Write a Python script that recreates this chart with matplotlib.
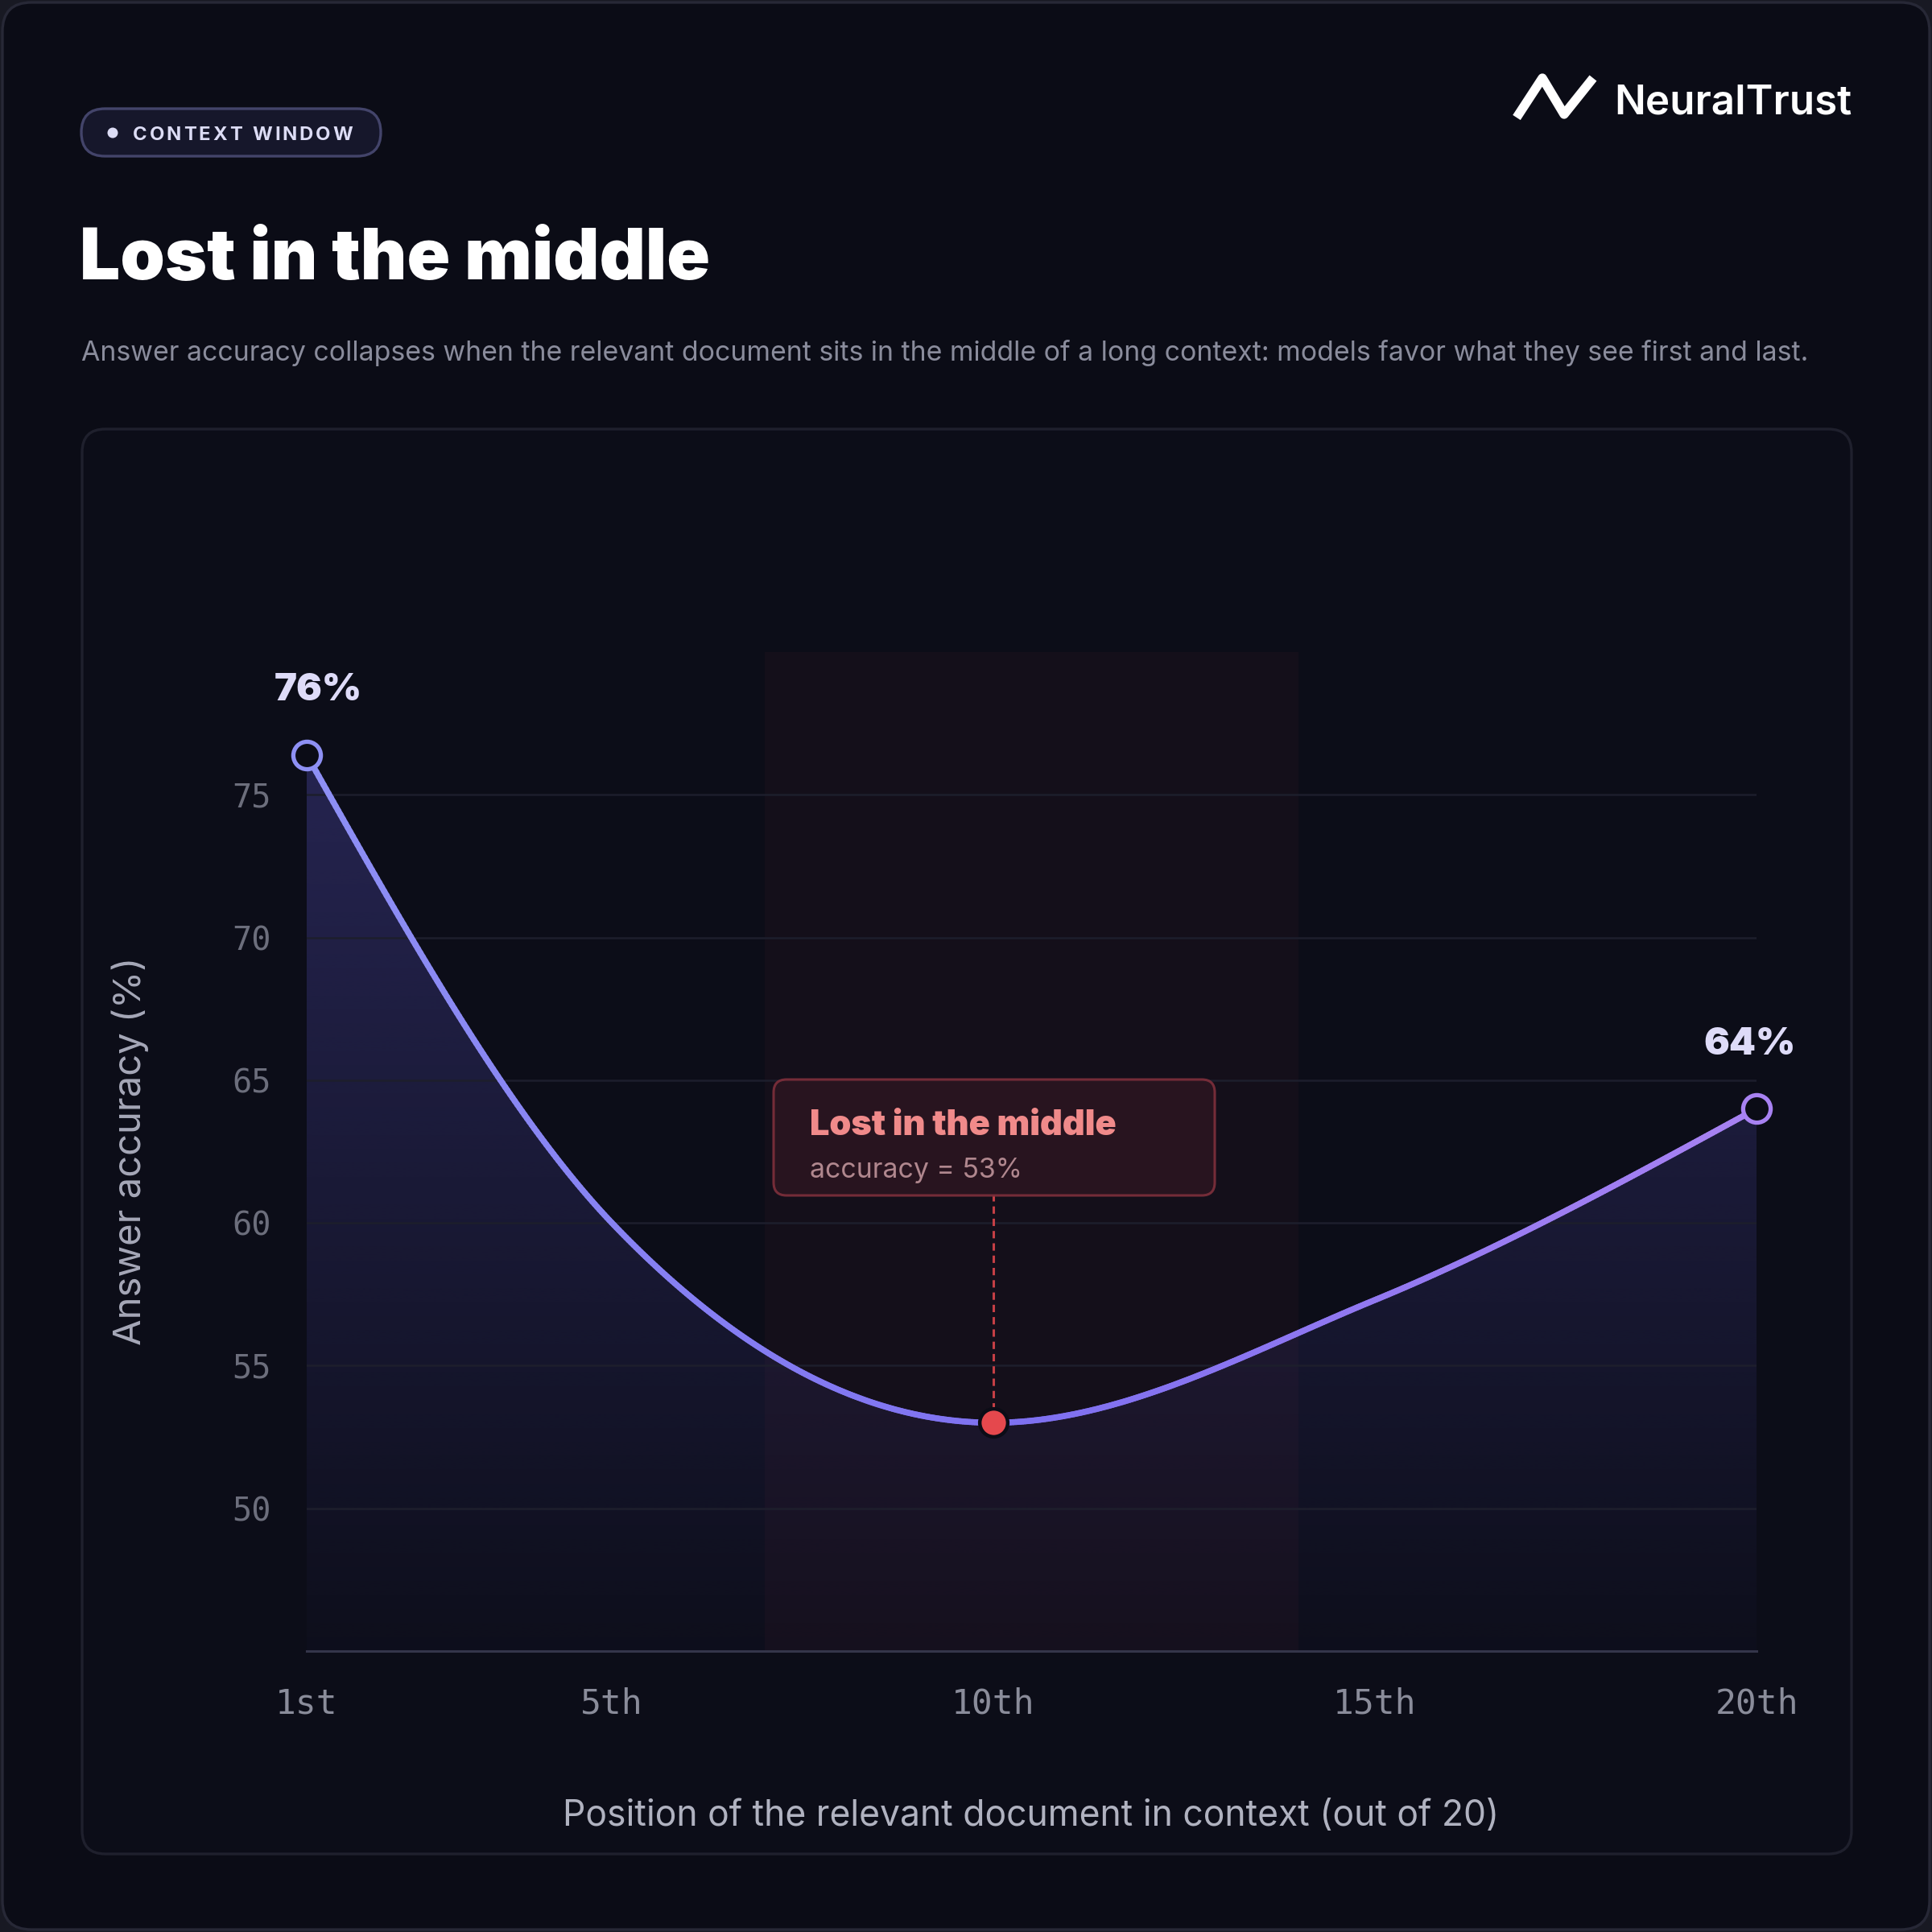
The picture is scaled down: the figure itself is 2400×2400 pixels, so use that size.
import numpy as np
import matplotlib
matplotlib.use("Agg")
import matplotlib.pyplot as plt
from matplotlib.patches import FancyBboxPatch, Circle
from matplotlib.collections import LineCollection
from matplotlib.colors import LinearSegmentedColormap, to_rgb

plt.rcParams['font.family'] = ['Inter', 'DejaVu Sans']

# --- data ---
positions = [1, 5, 10, 15, 20]
accuracy = [76.4, 60.0, 53.0, 57.3, 64.0]
tick_pos = [1, 5, 10, 15, 20]
tick_labels = ['1st', '5th', '10th', '15th', '20th']
y_ticks = [50, 55, 60, 65, 70, 75]
end_labels = ['76%', '64%']
band = (7, 14)          # "lost in the middle" zone
min_label = 'accuracy = 53%'

title = 'Lost in the middle'
subtitle = ('Answer accuracy collapses when the relevant document sits in the middle '
            'of a long context: models favor what they see first and last.')

BG = '#0b0c16'
W = H = 2400


def fx(x):
    return x / W


def fy(y):
    return 1 - y / H


def monotone_x(x, y, n=600):
    # same idea as d3.curveMonotoneX
    x = np.asarray(x, float)
    y = np.asarray(y, float)
    h = np.diff(x)
    s = np.diff(y) / h
    t = np.zeros_like(y)
    for i in range(1, len(x) - 1):
        p = (s[i - 1] * h[i] + s[i] * h[i - 1]) / (h[i - 1] + h[i])
        t[i] = (np.sign(s[i - 1]) + np.sign(s[i])) * min(abs(s[i - 1]), abs(s[i]), 0.5 * abs(p))
    t[0] = (3 * s[0] - t[1]) / 2
    t[-1] = (3 * s[-1] - t[-2]) / 2
    xs = np.linspace(x[0], x[-1], n)
    ys = np.empty_like(xs)
    for k, xv in enumerate(xs):
        i = min(np.searchsorted(x, xv, side='right') - 1, len(x) - 2)
        u = (xv - x[i]) / h[i]
        h00 = 2 * u**3 - 3 * u**2 + 1
        h10 = u**3 - 2 * u**2 + u
        h01 = -2 * u**3 + 3 * u**2
        h11 = u**3 - u**2
        ys[k] = h00 * y[i] + h10 * h[i] * t[i] + h01 * y[i + 1] + h11 * h[i] * t[i + 1]
    return xs, ys


fig = plt.figure(figsize=(12, 12), dpi=200, facecolor='#181923')

# card + chart panel (behind the axes)
fig.patches.append(FancyBboxPatch((fx(3), fy(2397)), fx(2394), fx(2394),
                                  boxstyle='round,pad=0,rounding_size=0.015',
                                  transform=fig.transFigure, fc=BG, ec='#272836', lw=1.2, zorder=-3))
fig.patches.append(FancyBboxPatch((fx(102), fy(2303)), fx(2198), fx(1770),
                                  boxstyle='round,pad=0,rounding_size=0.012',
                                  transform=fig.transFigure, fc='#0c0d18', ec='#1f202d', lw=1.2, zorder=-2))

# badge
fig.patches.append(FancyBboxPatch((fx(101), fy(194)), fx(372), fx(59),
                                  boxstyle='round,pad=0,rounding_size=%f' % fx(29.5),
                                  transform=fig.transFigure, fc='#16172b', ec='#43446a', lw=1.2, zorder=1))
fig.patches.append(Circle((fx(140), fy(165)), fx(6.5), transform=fig.transFigure,
                          fc='#dcdcf5', ec='none', zorder=2))
renderer = fig.canvas.get_renderer()
badge_text = 'CONTEXT WINDOW'
cx = fx(165)
track = 2.9 / W
for i, ch in enumerate(badge_text):
    if ch == ' ':
        cx += 7.0 / W + track
        continue
    t = fig.text(cx, fy(174), ch, fontsize=8.6, fontweight='bold', color='#dcdcf5',
                 ha='left', va='baseline')
    cx += t.get_window_extent(renderer).width / W + track

# logo
logo_x = [1884, 1916, 1943, 1979]
logo_y = [146, 97, 142, 97]
fig.lines.append(plt.Line2D([fx(v) for v in logo_x], [fy(v) for v in logo_y],
                            transform=fig.transFigure, color='white', lw=4.1,
                            solid_joinstyle='round', solid_capstyle='butt'))
fig.text(fx(2005), fy(142), 'NeuralTrust', fontsize=18.4, fontweight='semibold',
         color='white', ha='left', va='baseline')

# title + subtitle
fig.text(fx(99), fy(347), title, fontsize=32, fontweight='black', color='white',
         ha='left', va='baseline')
fig.text(fx(101), fy(448), subtitle, fontsize=12.2, color='#8a8c9c',
         ha='left', va='baseline')

# --- chart ---
ax = fig.add_axes([fx(381), fy(2051), fx(2182 - 381), fx(2051 - 810)])
ax.set_facecolor('none')
ax.set_zorder(1)

xs, ys = monotone_x(positions, accuracy)
ymin, ymax = 45, 80

# highlighted band
ax.axvspan(band[0], band[1], color='#e5484d', alpha=0.038, lw=0, zorder=0.5)

# gradient fill under the curve
fill = ax.fill_between(xs, ys, ymin, color='none', lw=0)
purple = np.array(to_rgb('#6a63e8'))
fill_grad = np.zeros((300, 2, 4))
fill_grad[..., :3] = purple
fill_grad[..., 3] = np.linspace(0.02, 0.30, 300)[:, None]
im = ax.imshow(fill_grad, extent=[positions[0], positions[-1], ymin, ymax], origin='lower',
               aspect='auto', zorder=1, interpolation='bilinear')
im.set_clip_path(fill.get_paths()[0], transform=ax.transData)

# gradient line
cmap = LinearSegmentedColormap.from_list('line', ['#8e90f4', '#7e70f0', '#a882f2'])
pts = np.column_stack([xs, ys]).reshape(-1, 1, 2)
segs = np.concatenate([pts[:-1], pts[1:]], axis=1)
lc = LineCollection(segs, cmap=cmap, lw=2.7, capstyle='round', joinstyle='round', zorder=3)
lc.set_array((xs[:-1] - xs[0]) / (xs[-1] - xs[0]))
lc.set_clim(0, 1)
ax.add_collection(lc)

# end markers and labels
end_cols = ['#8e90f4', '#a882f2']
end_dx = [5, -3]
for idx, lab, col, dx in zip([0, -1], end_labels, end_cols, end_dx):
    ax.plot(positions[idx], accuracy[idx], 'o', ms=12.3, mfc=BG, mec=col, mew=1.9,
            zorder=5, clip_on=False)
    ax.annotate(lab, (positions[idx], accuracy[idx]), xytext=(dx, 28.5),
                textcoords='offset points', ha='center', va='center',
                fontsize=17, fontweight='black', color='#dedbf8', annotation_clip=False)

# minimum point + callout
imin = int(np.argmin(accuracy))
box_bottom = 61.0
ax.plot([positions[imin]] * 2, [accuracy[imin], box_bottom], color='#e5484d', lw=1.1,
        ls=(0, (3, 2)), alpha=0.85, zorder=4)
ax.plot(positions[imin], accuracy[imin], 'o', ms=12.5, mfc='#e5484d', mec=BG, mew=1.6, zorder=6)

fig.patches.append(FancyBboxPatch((fx(961), fy(1485)), fx(548), fx(144),
                                  boxstyle='round,pad=0,rounding_size=%f' % fx(16),
                                  transform=fig.transFigure, fc='#2a1520', ec='#7a2e3a',
                                  lw=1.1, zorder=5, alpha=0.95))
fig.text(fx(1006), fy(1410), title, fontsize=15.6, fontweight='black', color='#f08a8a',
         ha='left', va='baseline', zorder=6)
fig.text(fx(1006), fy(1463), min_label, fontsize=12.2, color='#b0878e',
         ha='left', va='baseline', zorder=6)

# axes styling
ax.set_xlim(positions[0], positions[-1])
ax.set_ylim(ymin, ymax)
ax.set_yticks(y_ticks)
ax.set_yticklabels([str(v) for v in y_ticks], fontfamily='DejaVu Sans Mono',
                   fontsize=14.5, color='#6c6e7c')
ax.set_xticks(tick_pos)
ax.set_xticklabels(tick_labels, fontfamily='DejaVu Sans Mono', fontsize=15.5, color='#8a8c9a')
ax.tick_params(axis='both', length=0)
ax.tick_params(axis='y', pad=16)
ax.tick_params(axis='x', pad=16)
ax.grid(axis='y', color='#1d1e2c', lw=0.9, zorder=0.2)
ax.grid(axis='x', visible=False)
for s in ['top', 'left', 'right']:
    ax.spines[s].set_visible(False)
ax.spines['bottom'].set_color('#34354a')
ax.spines['bottom'].set_linewidth(1.1)

fig.text(fx(162), fy(1430), 'Answer accuracy (%)', rotation=90, fontsize=17,
         color='#a6a8b8', ha='center', va='center')
fig.text(fx(1281), fy(2256), 'Position of the relevant document in context (out of 20)',
         fontsize=16, color='#b0b2c0', ha='center', va='center')

fig.savefig('out.png', dpi=200, facecolor=fig.get_facecolor())
